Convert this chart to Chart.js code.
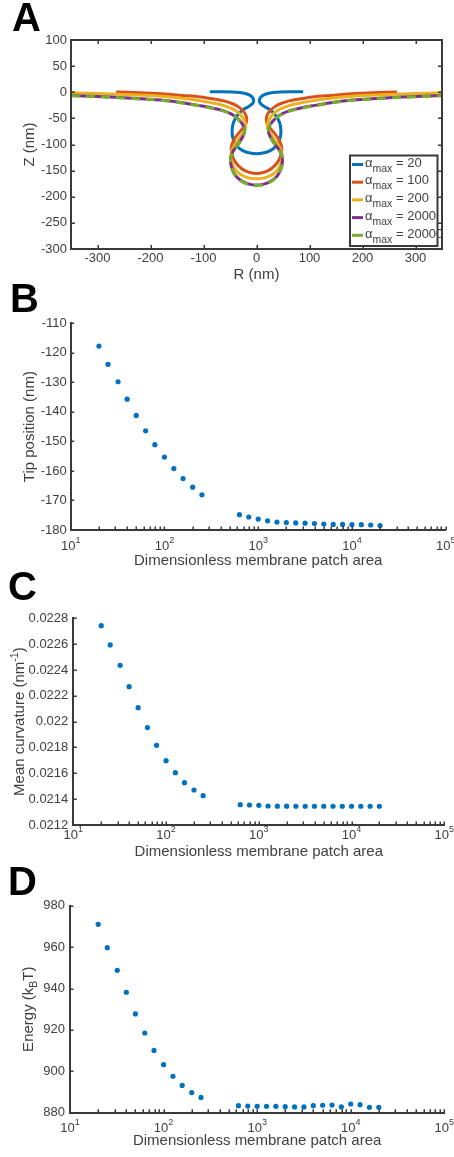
<!DOCTYPE html>
<html>
<head>
<meta charset="utf-8">
<script src="https://cdn.jsdelivr.net/npm/chart.js@4.4.1/dist/chart.umd.min.js"></script>
<style>
  html, body { margin: 0; padding: 0; background: #fff; }
  body { width: 454px; height: 1157px; position: relative; overflow: hidden; }
  .panel { position: absolute; left: 0; width: 454px; }
  .panel canvas { display: block; }
  .letter { position: absolute; z-index: 2; font: bold 40px "Liberation Sans", Arial, Helvetica, sans-serif; line-height: 40px; color: #000; }
</style>
</head>
<body>
<div class="letter" style="left:12px;top:-3px">A</div>
<div class="letter" style="left:10px;top:278px">B</div>
<div class="letter" style="left:8px;top:566px">C</div>
<div class="letter" style="left:8px;top:861px">D</div>
<script>
// ---------- Panel A: membrane profiles (right half, outer edge -> tip), nm ----------
const alphaMax = [20, 100, 200, 2000, 20000];

const profileR20 = [88, 65, 45, 32, 21, 13, 8, 5.5, 6, 10, 17, 26, 36, 43.5, 46, 45, 41, 33, 24, 12, 0];
const profileZ20 = [1, 1, 0.5, -0.5, -2.5, -5.5, -9.5, -14.5, -19.5, -24, -28.5, -34, -44, -58, -72, -86, -97, -107, -112.5, -116.3, -117.7];

const profileR100 = [265, 220, 180, 140, 105, 80, 60, 45, 34, 26, 21, 18.5, 19, 23, 30, 38, 44, 47.5, 47, 42, 34, 23, 11, 0];
const profileZ100 = [0.5, -1, -3, -6, -9, -13, -17, -22, -28, -35, -42, -50, -57, -65, -74, -84, -94, -105, -117, -130, -141, -149.5, -154, -155.3];

const profileR200 = [350, 300, 250, 180, 140, 105, 80, 60, 45, 35, 28, 23, 20.5, 21, 25, 32, 40, 46, 48.5, 47, 42, 34, 22, 10, 0];
const profileZ200 = [-1, -2.5, -4.5, -7.5, -11.5, -16.5, -21, -26, -32, -38.5, -46, -54, -62, -70, -78, -88, -99, -110, -121, -133, -145, -154.5, -161.5, -164.8, -165.5];

const profileR2000 = [350, 300, 250, 180, 140, 105, 80, 60, 48, 38, 31, 26, 23, 23, 27, 33, 41, 47, 49, 47.5, 43, 35, 23, 10, 0];
const profileZ2000 = [-6.4, -8, -10.5, -15, -20, -26, -31, -36, -41.5, -48, -55, -62, -70, -78, -87, -97, -108, -119, -130, -142, -154, -164.5, -172.5, -176.8, -177.5];

const profileR20000 = [350, 300, 250, 180, 140, 105, 80, 60, 48, 38, 31, 26, 23, 23, 27, 33, 41, 47, 49, 47.5, 43, 35, 23, 10, 0];
const profileZ20000 = [-6.8, -8.5, -11, -15.5, -20.5, -26.5, -31.5, -36.5, -42, -48.5, -55.5, -62.5, -70.5, -78.5, -87.5, -97.5, -108.5, -119.5, -130.5, -142.5, -154.5, -165, -173.5, -177.8, -178.5];

const rTicks = [-300, -200, -100, 0, 100, 200, 300];
const zTicks = [-300, -250, -200, -150, -100, -50, 0, 50, 100];

// ---------- Panels B-D: against dimensionless membrane patch area ----------
const patchArea = [20, 25, 32, 40, 50, 63, 79, 100, 126, 158, 200, 251,
                   631, 794, 1000, 1259, 1585, 1995, 2512, 3162, 3981, 5012, 6310, 7943, 10000, 12589, 15849, 19953];
const tipPosition = [-117.7, -123.9, -129.8, -135.7, -141.2, -146.4, -151.1, -155.3, -159.2, -162.6, -165.5, -168.1,
                     -174.8, -175.6, -176.3, -176.9, -177.3, -177.5, -177.6, -177.7, -177.8, -178.0, -178.1, -178.1, -178.2, -178.2, -178.3, -178.5];
const meanCurvature = [0.022743, 0.022594, 0.022436, 0.022271, 0.022108, 0.021954, 0.021817, 0.021698, 0.021605, 0.021528, 0.021471, 0.021427,
                       0.021357, 0.021355, 0.021352, 0.021347, 0.021346, 0.021346, 0.021345, 0.021345, 0.021345, 0.021345, 0.021345, 0.021345, 0.021345, 0.021345, 0.021345, 0.021345];
const energy = [971.0, 959.7, 948.8, 938.2, 927.7, 918.5, 910.1, 903.2, 897.6, 893.2, 889.7, 887.4,
                883.4, 883.2, 883.1, 883.1, 883.1, 882.9, 882.8, 882.8, 883.4, 883.6, 883.7, 882.8, 884.2, 883.9, 882.6, 882.6];

const areaExponents = [1, 2, 3, 4, 5];
const tipTicks = [-180, -170, -160, -150, -140, -130, -120, -110];
const curvTicks = [0.0212, 0.0214, 0.0216, 0.0218, 0.022, 0.0222, 0.0224, 0.0226, 0.0228];
const energyTicks = [880, 900, 920, 940, 960, 980];

// ---------- styling ----------
const AXIS = '#3a3a3a';
const TEXT = '#404040';
const FONT = '"Liberation Sans", Arial, Helvetica, sans-serif';
const LINE_COLORS = ['#0072BD', '#D95319', '#EDB120', '#7E2F8E', '#77AC30'];
const DOT = '#0072BD';

Chart.defaults.font.family = FONT;
Chart.defaults.font.size = 13;
Chart.defaults.color = TEXT;

function makeCanvas(top, height) {
  const div = document.createElement('div');
  div.className = 'panel';
  div.style.top = top + 'px';
  div.style.height = height + 'px';
  const c = document.createElement('canvas');
  c.width = 454; c.height = height;
  c.style.width = '454px'; c.style.height = height + 'px';
  div.appendChild(c);
  document.body.appendChild(div);
  return c;
}

// text made of runs with their own size and vertical shift (sub/superscripts)
function drawRich(ctx, parts, x, y, align) {
  let w = 0;
  for (const p of parts) { ctx.font = p.size + 'px ' + FONT; w += ctx.measureText(p.t).width; }
  let cx = align === 'center' ? x - w / 2 : (align === 'right' ? x - w : x);
  ctx.textAlign = 'left';
  ctx.textBaseline = 'alphabetic';
  for (const p of parts) {
    ctx.font = p.size + 'px ' + FONT;
    ctx.fillText(p.t, cx, y + (p.dy || 0));
    cx += ctx.measureText(p.t).width;
  }
}

// inward tick marks, optional full box
const axesDecor = {
  id: 'axesDecor',
  afterDatasetsDraw(chart, args, o) {
    const { ctx, chartArea: a } = chart;
    const xs = chart.scales.x, ys = chart.scales.y;
    ctx.save();
    ctx.strokeStyle = AXIS;
    ctx.lineWidth = 1.5;
    ctx.beginPath();
    (o.xTicks || []).forEach(v => {
      const p = Math.round(xs.getPixelForValue(v)) + 0.25;
      ctx.moveTo(p, a.bottom); ctx.lineTo(p, a.bottom - o.len);
      if (o.box) { ctx.moveTo(p, a.top); ctx.lineTo(p, a.top + o.len); }
    });
    (o.yTicks || []).forEach(v => {
      const p = Math.round(ys.getPixelForValue(v)) + 0.25;
      ctx.moveTo(a.left, p); ctx.lineTo(a.left + o.len, p);
      if (o.box) { ctx.moveTo(a.right, p); ctx.lineTo(a.right - o.len, p); }
    });
    ctx.stroke();
    if (o.box) {
      ctx.lineWidth = 2;
      ctx.strokeRect(a.left, a.top, a.right - a.left, a.bottom - a.top);
    }
    ctx.restore();
  }
};

// 10^n labels under a log axis, and a rich (rotated) y title
const richLabels = {
  id: 'richLabels',
  afterDraw(chart, args, o) {
    const { ctx, chartArea: a } = chart;
    ctx.save();
    ctx.fillStyle = TEXT;
    if (o.exponents) {
      const xs = chart.scales.x;
      o.exponents.forEach(e => {
        const p = xs.getPixelForValue(Math.pow(10, e));
        drawRich(ctx, [{ t: '10', size: 13 }, { t: String(e), size: 9, dy: -7 }], p, a.bottom + o.powerGap, 'center');
      });
    }
    if (o.yTitle) {
      ctx.translate(o.yTitleX, (a.top + a.bottom) / 2);
      ctx.rotate(-Math.PI / 2);
      drawRich(ctx, o.yTitle, 0, 0, 'center');
    }
    ctx.restore();
  }
};

// legend with subscripted labels
const profileLegend = {
  id: 'profileLegend',
  afterDraw(chart, args, o) {
    const { ctx } = chart;
    ctx.save();
    ctx.fillStyle = '#fff';
    ctx.fillRect(o.x, o.y, o.w, o.h);
    ctx.strokeStyle = AXIS;
    ctx.lineWidth = 2;
    ctx.strokeRect(o.x, o.y, o.w, o.h);
    chart.data.datasets.forEach((ds, i) => {
      const cy = o.y + 9 + i * o.step;
      ctx.strokeStyle = ds.borderColor;
      ctx.lineWidth = 3;
      ctx.setLineDash([]);
      ctx.beginPath();
      ctx.moveTo(o.x + 2, cy); ctx.lineTo(o.x + 13, cy);
      ctx.stroke();
      ctx.fillStyle = TEXT;
      drawRich(ctx, [
        { t: 'α', size: 13 },
        { t: 'max', size: 10.5, dy: 5 },
        { t: ' = ' + alphaMax[i], size: 13 }
      ], o.x + 15, cy + 2.2, 'left');
    });
    ctx.restore();
  }
};

function fixedTicks(list) { return s => { s.ticks = list.map(v => ({ value: v })); }; }

// ---------- Panel A ----------
(function () {
  const rs = [profileR20, profileR100, profileR200, profileR2000, profileR20000];
  const zs = [profileZ20, profileZ100, profileZ200, profileZ2000, profileZ20000];
  const datasets = rs.map((R, k) => {
    const Z = zs[k];
    const pts = [];
    for (let i = 0; i < R.length - 1; i++) pts.push({ x: -R[i], y: Z[i] });
    for (let i = R.length - 1; i >= 0; i--) pts.push({ x: R[i], y: Z[i] });
    return {
      label: 'α_max = ' + alphaMax[k],
      data: pts,
      showLine: true,
      borderColor: LINE_COLORS[k],
      backgroundColor: LINE_COLORS[k],
      borderWidth: 3,
      pointRadius: 0,
      tension: 0.35,
      borderJoinStyle: 'round',
      borderDash: k === 4 ? [9, 6] : [],
      order: 4 - k
    };
  });
  const cv = makeCanvas(0, 290);
  new Chart(cv, {
    type: 'scatter',
    data: { datasets },
    plugins: [axesDecor, profileLegend],
    options: {
      responsive: false, animation: false, devicePixelRatio: 1,
      layout: { padding: { top: 40, right: 12, left: 0, bottom: 0 } },
      scales: {
        x: {
          type: 'linear', min: -350, max: 350,
          afterBuildTicks: fixedTicks(rTicks),
          afterFit: s => { s.height = 41; },
          grid: { display: false, drawTicks: false }, border: { display: false },
          ticks: { padding: 2, color: TEXT, callback: v => String(v) },
          title: { display: true, text: 'R (nm)', color: TEXT, font: { size: 15 }, padding: { top: 0, bottom: 6.5 } }
        },
        y: {
          type: 'linear', min: -300, max: 100,
          afterBuildTicks: fixedTicks(zTicks),
          afterFit: s => { s.width = 71; },
          grid: { display: false, drawTicks: false }, border: { display: false },
          ticks: { padding: 4, color: TEXT, callback: v => String(v) },
          title: { display: true, text: 'Z (nm)', color: TEXT, font: { size: 15 }, padding: { top: 21, bottom: 0 } }
        }
      },
      plugins: {
        legend: { display: false }, tooltip: { enabled: false },
        axesDecor: { xTicks: rTicks, yTicks: zTicks, len: 4, box: true },
        profileLegend: { x: 350, y: 155.5, w: 87.5, h: 90.5, step: 17.7 }
      }
    }
  });
})();

// ---------- Panels B-D ----------
function minorAreaTicks() {
  const t = [];
  for (let e = 1; e < 5; e++) for (let m = 1; m < 10; m++) t.push(m * Math.pow(10, e));
  t.push(1e5);
  return t;
}

function areaPanel(cfg) {
  const cv = makeCanvas(cfg.top, cfg.height);
  return new Chart(cv, {
    type: 'scatter',
    data: { datasets: [{ data: patchArea.map((a, i) => ({ x: a, y: cfg.values[i] })), pointRadius: 2.6, pointBorderWidth: 0, backgroundColor: DOT, borderColor: DOT }] },
    plugins: [axesDecor, richLabels],
    options: {
      responsive: false, animation: false, devicePixelRatio: 1,
      layout: { padding: { top: cfg.padTop, right: cfg.padRight, left: 0, bottom: 0 } },
      scales: {
        x: {
          type: 'logarithmic', min: 10, max: 1e5,
          afterFit: s => { s.height = cfg.xHeight; },
          grid: { display: false, drawTicks: false }, border: { display: true, color: AXIS, width: 2 },
          ticks: { display: false },
          title: { display: true, text: 'Dimensionless membrane patch area', color: TEXT, font: { size: 15 }, padding: { top: 0, bottom: cfg.xTitlePad } }
        },
        y: {
          type: 'linear', min: cfg.ticks[0], max: cfg.ticks[cfg.ticks.length - 1],
          afterBuildTicks: fixedTicks(cfg.ticks),
          afterFit: s => { s.width = cfg.yWidth; },
          grid: { display: false, drawTicks: false }, border: { display: true, color: AXIS, width: 2 },
          ticks: { padding: cfg.yPad, color: TEXT, callback: cfg.fmt },
          title: cfg.yTitleText ? { display: true, text: cfg.yTitleText, color: TEXT, font: { size: 15 }, padding: { top: cfg.yTitlePad, bottom: 0 } } : { display: false }
        }
      },
      plugins: {
        legend: { display: false }, tooltip: { enabled: false },
        axesDecor: { xTicks: minorAreaTicks(), yTicks: cfg.ticks, len: 3.5, box: false },
        richLabels: { exponents: areaExponents, powerGap: cfg.powerGap, yTitle: cfg.yTitleRich, yTitleX: cfg.yTitleX }
      }
    }
  });
}

areaPanel({
  top: 290, height: 280, values: tipPosition, ticks: tipTicks,
  padTop: 33.3, padRight: 8.3, xHeight: 40, yWidth: 70.7, yPad: 4,
  fmt: v => String(v), xTitlePad: 0, powerGap: 19.5,
  yTitleText: 'Tip position (nm)', yTitlePad: 20.4
});

areaPanel({
  top: 570, height: 295, values: meanCurvature, ticks: curvTicks,
  padTop: 48.3, padRight: 9.7, xHeight: 40, yWidth: 73.3, yPad: 5,
  fmt: v => String(+v.toFixed(4)), xTitlePad: 4.3, powerGap: 14,
  yTitleRich: [{ t: 'Mean curvature (nm', size: 15 }, { t: '-1', size: 10.5, dy: -6 }, { t: ')', size: 15 }], yTitleX: 24
});

areaPanel({
  top: 865, height: 292, values: energy, ticks: energyTicks,
  padTop: 40.7, padRight: 9.7, xHeight: 44.3, yWidth: 70, yPad: 5,
  fmt: v => String(v), xTitlePad: 7, powerGap: 19.5,
  yTitleRich: [{ t: 'Energy (k', size: 15 }, { t: 'B', size: 10.5, dy: 4 }, { t: 'T)', size: 15 }], yTitleX: 32.5
});
</script>
</body>
</html>
